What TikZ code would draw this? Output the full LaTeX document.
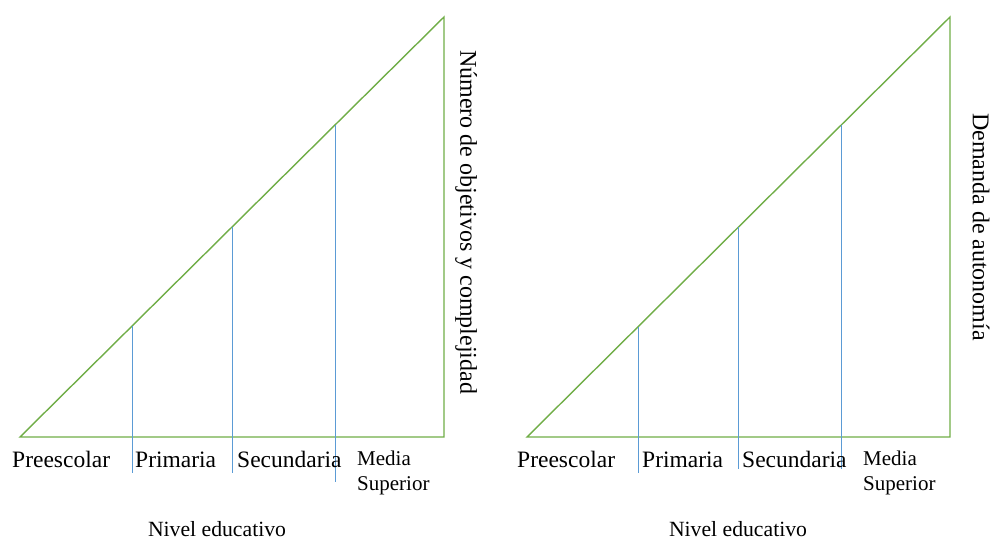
\documentclass[tikz,border=0pt]{standalone}
\usepackage{fontspec}
\setmainfont{Liberation Serif}
\definecolor{trigreen}{RGB}{112,173,71}
\definecolor{lineblue}{RGB}{91,155,213}
\tikzset{
  tri/.style={draw=trigreen, line width=1.4pt, line join=miter},
  divider/.style={draw=lineblue, line width=0.9pt},
  level/.style={anchor=base west, inner sep=0pt, font=\fontsize{23.5}{26}\selectfont},
  levelsmall/.style={anchor=base west, inner sep=0pt, align=left, font=\fontsize{21}{25}\selectfont},
  axisname/.style={anchor=base, inner sep=0pt, font=\fontsize{21.7}{24}\selectfont},
  sidename/.style={inner sep=0pt, rotate=-90, font=\fontsize{24}{26}\selectfont}
}
\begin{document}
\begin{tikzpicture}[x=1pt, y=-1pt]
  \useasboundingbox (0,0) rectangle (992,541);
  % left triangle
  \coordinate (lA) at (20,437);
  \coordinate (lB) at (444,437);
  \coordinate (lC) at (444,17);
  \draw[tri] (lA) -- (lB) -- (lC) -- cycle;
  \coordinate (lt1) at (132,326);
  \coordinate (lt2) at (232,227);
  \coordinate (lt3) at (335,125);
  \coordinate (lb1) at (132,473);
  \coordinate (lb2) at (232,473);
  \coordinate (lb3) at (335,482);
  \draw[divider] (lt1) -- (lb1);
  \draw[divider] (lt2) -- (lb2);
  \draw[divider] (lt3) -- (lb3);
  \node[level] (lpre) at (12,467) {Preescolar};
  \node[level] (lpri) at (135,467) {Primaria};
  \node[level] (lsec) at (237,467) {Secundaria};
  \node[levelsmall] (lmed) at (357,490) {Media\\Superior};
  \node[axisname] (lniv) at (217,536) {Nivel educativo};
  \node[sidename] (ly) at (466,222) {Número de objetivos y complejidad};
  % right triangle
  \coordinate (rA) at (527,437);
  \coordinate (rB) at (950,437);
  \coordinate (rC) at (950,17);
  \draw[tri] (rA) -- (rB) -- (rC) -- cycle;
  \coordinate (rt1) at (638,327);
  \coordinate (rt2) at (738,227);
  \coordinate (rt3) at (841,125);
  \coordinate (rb1) at (638,473);
  \coordinate (rb2) at (738,469);
  \coordinate (rb3) at (841,469);
  \draw[divider] (rt1) -- (rb1);
  \draw[divider] (rt2) -- (rb2);
  \draw[divider] (rt3) -- (rb3);
  \node[level] (rpre) at (517,467) {Preescolar};
  \node[level] (rpri) at (642,467) {Primaria};
  \node[level] (rsec) at (742,467) {Secundaria};
  \node[levelsmall] (rmed) at (863,490) {Media\\Superior};
  \node[axisname] (rniv) at (738,536) {Nivel educativo};
  \node[sidename] (ry) at (981,227) {Demanda de autonomía};
\end{tikzpicture}
\end{document}
